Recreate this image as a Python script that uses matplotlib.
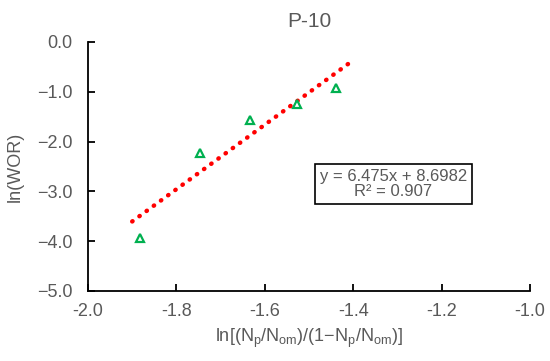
import matplotlib.pyplot as plt
import numpy as np

plt.rcParams['font.family'] = ['Liberation Sans', 'DejaVu Sans']

# data
x_vals = [-1.883, -1.747, -1.633, -1.527, -1.439]
y_vals = [-3.94, -2.22, -1.57, -1.25, -0.93]
slope = 6.475
intercept = 8.6982
fit_range = [-1.9, -1.4]

x_ticks = [-2.0, -1.8, -1.6, -1.4, -1.2, -1.0]
y_ticks = [0.0, -1.0, -2.0, -3.0, -4.0, -5.0]

grey = '#595959'

fig = plt.figure(figsize=(5.5, 3.61), dpi=100)
ax = fig.add_axes([0.16, 0.194, 0.8036, 0.6897])

xf = np.array(fit_range)
ax.plot(xf, slope * xf + intercept, color='#ff0000', linestyle=(0, (0.1, 1.9)),
        linewidth=3.2, dash_capstyle='round', zorder=2)
ax.plot(x_vals, y_vals, linestyle='none', marker='^', markersize=6,
        markerfacecolor='white', markeredgecolor='#00b050', markeredgewidth=1.6, zorder=3)

ax.set_xlim(-2.0, -1.0)
ax.set_ylim(-5.0, 0.0)
ax.set_xticks(x_ticks)
ax.set_yticks(y_ticks)
ax.set_xticklabels(['%.1f' % v for v in x_ticks])
ax.set_yticklabels([('%.1f' % v).replace('-', '\u2212') for v in y_ticks])

for s in ['top', 'right']:
    ax.spines[s].set_visible(False)
for s in ['left', 'bottom']:
    ax.spines[s].set_linewidth(1.3)
    ax.spines[s].set_color('black')
ax.tick_params(direction='in', length=5, width=1.3, labelsize=13, labelcolor=grey)
ax.tick_params(axis='y', pad=11)
ax.tick_params(axis='x', pad=9)

ax.set_title('P-10', fontsize=15, color=grey, pad=11)
ax.set_ylabel('ln(WOR)', fontsize=13, color=grey)
ax.yaxis.set_label_coords(-0.165, 0.5)
ax.yaxis.label.set_va('center')
ax.set_xlabel('ln[(N$_\\mathregular{p}$/N$_\\mathregular{om}$)/(1\u2212N$_\\mathregular{p}$/N$_\\mathregular{om}$)]',
              fontsize=13, color=grey)
ax.xaxis.set_label_coords(0.5, -0.189)
ax.xaxis.label.set_va('center')

ax.text(-1.309, -2.85, 'y = 6.475x + 8.6982\nR\u00b2 = 0.907', fontsize=12, color=grey,
        ha='center', va='center', multialignment='center', linespacing=1.0,
        bbox=dict(boxstyle='square,pad=0.3', facecolor='white', edgecolor='black', linewidth=1.2))

fig.savefig('out.png', dpi=100)
